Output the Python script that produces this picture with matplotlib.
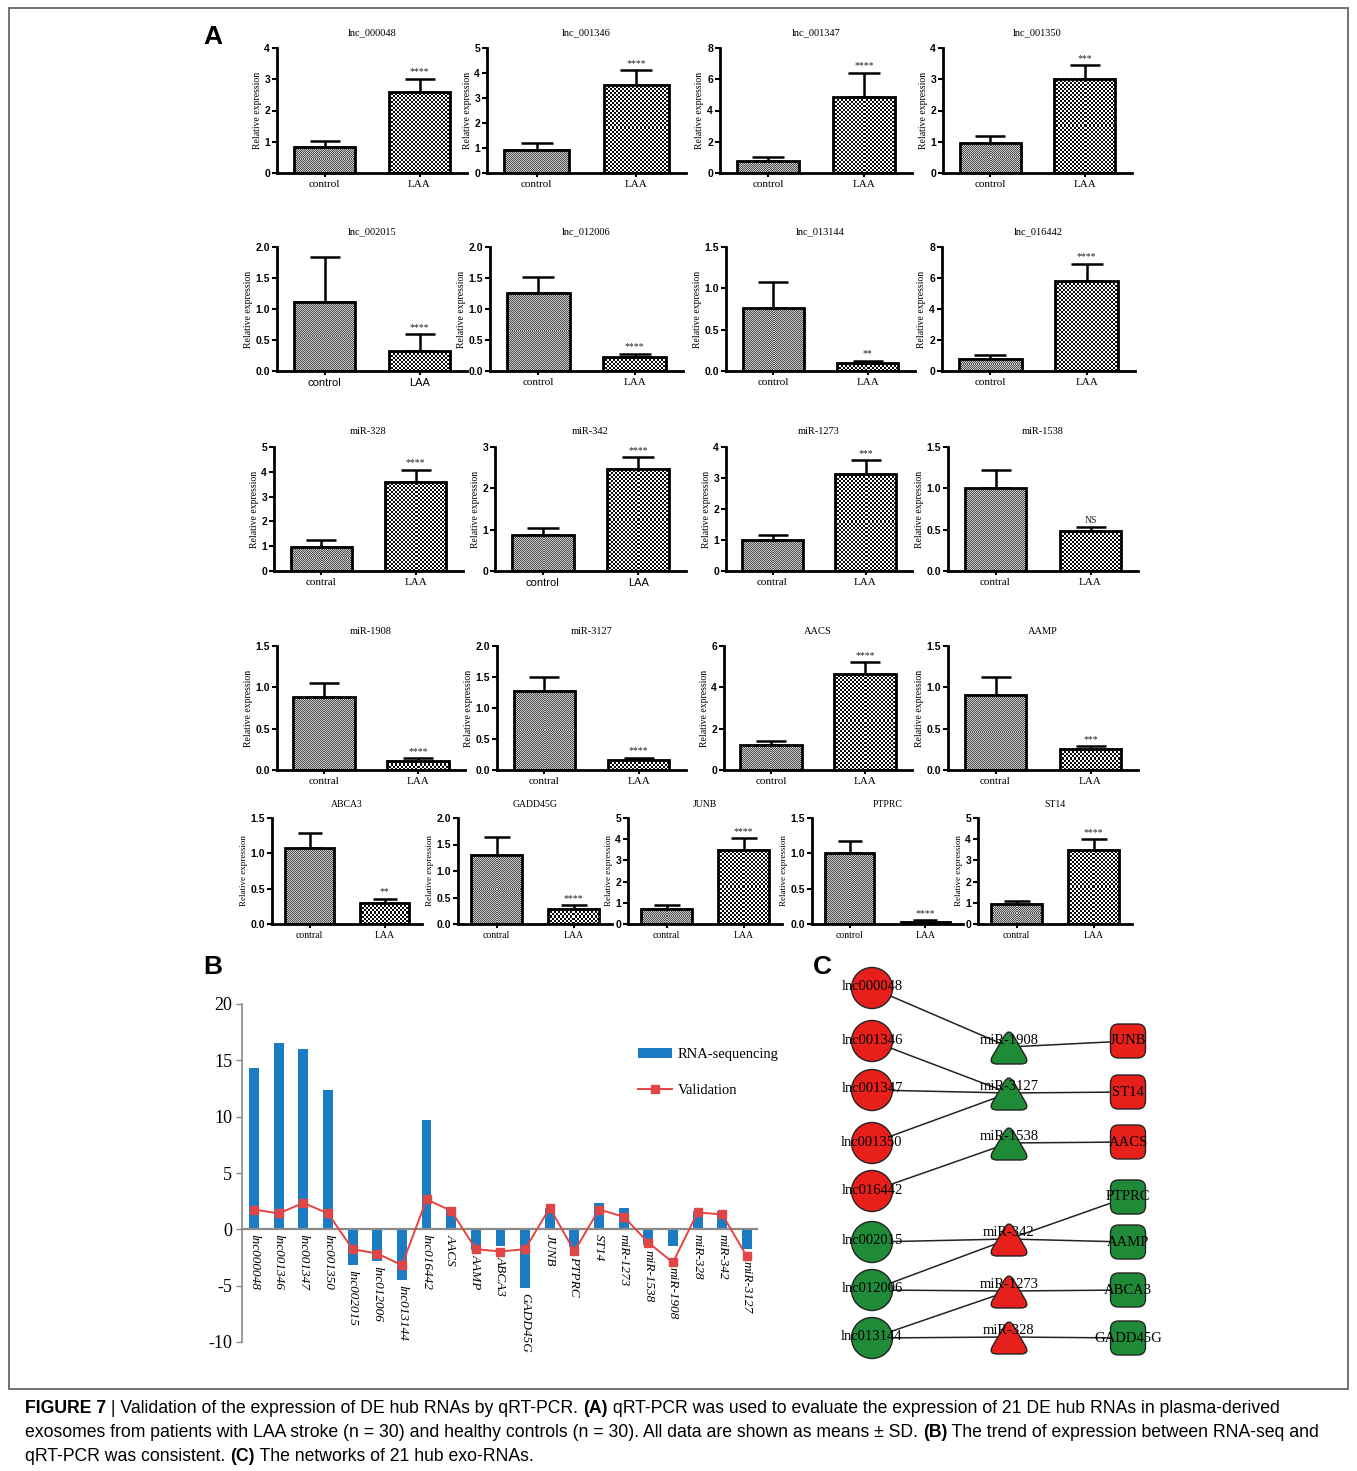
import numpy as np
import matplotlib
matplotlib.use("Agg")
import matplotlib.pyplot as plt
from matplotlib.patches import Rectangle, Circle, FancyBboxPatch, PathPatch, Patch
from matplotlib.lines import Line2D
from matplotlib.path import Path

W, H = 1357, 1471
SERIF = "Liberation Serif"
SANS = "Liberation Sans"

# ---------------- Panel A: qRT-PCR relative expression ----------------
genes_A = ["lnc_000048", "lnc_001346", "lnc_001347", "lnc_001350",
           "lnc_002015", "lnc_012006", "lnc_013144", "lnc_016442",
           "miR-328", "miR-342", "miR-1273", "miR-1538",
           "miR-1908", "miR-3127", "AACS", "AAMP",
           "ABCA3", "GADD45G", "JUNB", "PTPRC", "ST14"]
ctrl_mean = [0.84, 0.94, 0.76, 0.97, 1.12, 1.26, 0.76, 0.79,
             0.98, 0.87, 1.00, 1.00, 0.88, 1.28, 1.19, 0.91,
             1.07, 1.31, 0.71, 1.00, 0.95]
ctrl_sd = [0.19, 0.25, 0.27, 0.20, 0.72, 0.25, 0.32, 0.26,
           0.26, 0.17, 0.15, 0.22, 0.17, 0.22, 0.20, 0.21,
           0.22, 0.33, 0.20, 0.17, 0.13]
laa_mean = [2.59, 3.54, 4.85, 3.01, 0.32, 0.22, 0.093, 5.79,
            3.58, 2.47, 3.13, 0.48, 0.11, 0.16, 4.65, 0.26,
            0.30, 0.29, 3.50, 0.03, 3.50]
laa_sd = [0.43, 0.59, 1.57, 0.45, 0.28, 0.06, 0.032, 1.14,
          0.51, 0.29, 0.46, 0.05, 0.03, 0.04, 0.58, 0.03,
          0.06, 0.06, 0.55, 0.02, 0.50]
sig_marks = ["****", "****", "****", "***", "****", "****", "**", "****",
             "****", "****", "***", "NS", "****", "****", "****", "***",
             "**", "****", "****", "****", "****"]
y_max = [4, 5, 8, 4, 2.0, 2.0, 1.5, 8,
         5, 3, 4, 1.5, 1.5, 2.0, 6, 1.5,
         1.5, 2.0, 5, 1.5, 5]
y_step = [1, 1, 2, 1, 0.5, 0.5, 0.5, 2,
          1, 1, 1, 0.5, 0.5, 0.5, 2, 0.5,
          0.5, 0.5, 1, 0.5, 1]
group_names = [["control", "LAA"]] * 8 + [
    ["contral", "LAA"], ["control", "LAA"], ["contral", "LAA"], ["contral", "LAA"],
    ["contral", "LAA"], ["contral", "LAA"], ["control", "LAA"], ["contral", "LAA"],
    ["contral", "LAA"], ["contral", "LAA"], ["contral", "LAA"], ["control", "LAA"],
    ["contral", "LAA"]]
sans_group_labels = {"lnc_002015", "miR-342"}

# axes boxes in pixels: (left, right, top-of-scale, zero line)
boxes_A = [
    (277, 467, 48, 173), (487, 686, 48, 173), (720, 912, 48, 173), (943, 1132, 48, 173),
    (277, 467, 247, 371), (490, 683, 247, 371), (726, 915, 247, 371), (942, 1135, 247, 371),
    (274, 463, 447, 571), (495, 686, 447, 571), (726, 912, 447, 571), (948, 1138, 447, 571),
    (277, 465, 646, 770), (497, 686, 646, 770), (724, 912, 646, 770), (948, 1138, 646, 770),
    (272, 422, 818, 924), (458, 612, 818, 924), (628, 782, 818, 924), (812, 963, 818, 924),
    (978, 1132, 818, 924),
]

# ---------------- Panel B: RNA-seq vs validation ----------------
names_B = ["lnc000048", "lnc001346", "lnc001347", "lnc001350", "lnc002015",
           "lnc012006", "lnc013144", "lnc016442", "AACS", "AAMP", "ABCA3",
           "GADD45G", "JUNB", "PTPRC", "ST14", "miR-1273", "miR-1538",
           "miR-1908", "miR-328", "miR-342", "miR-3127"]
rnaseq_fc = [14.3, 16.5, 16.05, 12.4, -3.2, -2.8, -4.5, 9.7, 2.0, -1.8, -1.5,
             -5.2, 1.9, -1.6, 2.3, 1.85, -1.4, -1.5, 1.6, 1.6, -1.75]
validation_fc = [1.76, 1.41, 2.35, 1.41, -1.76, -2.15, -3.18, 2.65, 1.65, -1.76,
                 -1.97, -1.76, 1.91, -1.94, 1.76, 1.12, -1.18, -2.94, 1.5, 1.32,
                 -2.41]
b_yticks = [-10, -5, 0, 5, 10, 15, 20]

# ---------------- Panel C: regulatory network ----------------
lnc_nodes = ["lnc000048", "lnc001346", "lnc001347", "lnc001350", "lnc016442",
             "lnc002015", "lnc012006", "lnc013144"]
lnc_up = [True, True, True, True, True, False, False, False]
mir_nodes = ["miR-1908", "miR-3127", "miR-1538", "miR-342", "miR-1273", "miR-328"]
mir_up = [False, False, False, True, True, True]
mrna_nodes = ["JUNB", "ST14", "AACS", "PTPRC", "AAMP", "ABCA3", "GADD45G"]
mrna_up = [True, True, True, False, False, False, False]
net_edges = [("lnc000048", "miR-1908"), ("lnc001346", "miR-3127"),
             ("lnc001347", "miR-3127"), ("lnc001350", "miR-3127"),
             ("lnc016442", "miR-1538"), ("miR-1908", "JUNB"),
             ("miR-3127", "ST14"), ("miR-1538", "AACS"),
             ("lnc002015", "miR-342"), ("miR-342", "PTPRC"), ("miR-342", "AAMP"),
             ("lnc012006", "miR-342"), ("lnc012006", "miR-1273"),
             ("miR-1273", "ABCA3"), ("lnc013144", "miR-1273"),
             ("lnc013144", "miR-328"), ("miR-328", "GADD45G")]

# node layout (pixel grid of the network area)
col_x = {"lnc": 872, "mir": 1009, "mrna": 1128}
lnc_y = [988, 1041, 1090, 1143, 1191, 1242, 1290, 1338]
mir_y = [1047, 1093, 1143, 1239, 1291, 1337]
mrna_y = [1041, 1092, 1142, 1197, 1242, 1290, 1338]

RED = "#e8201c"
GREEN = "#1f8a38"

fig = plt.figure(figsize=(W / 100, H / 100), dpi=100)


def axes_px(x0, x1, y0, y1):
    return fig.add_axes([x0 / W, 1 - y1 / H, (x1 - x0) / W, (y1 - y0) / H])


def checker(h, w, cell, c1, c2):
    yy, xx = np.indices((max(h, 1), max(w, 1)))
    mask = ((yy // cell) + (xx // cell)) % 2 == 0
    img = np.empty(mask.shape + (3,))
    img[mask] = c1
    img[~mask] = c2
    return img


# outer frame
fig.add_artist(Rectangle((9 / W, 1 - 1389 / H), (1348 - 9) / W, (1389 - 8) / H,
                         transform=fig.transFigure, fill=False,
                         edgecolor="#666666", lw=1.3))

for i, name in enumerate(genes_A):
    x0, x1, y0, y1 = boxes_A[i]
    ax = axes_px(x0, x1, y0, y1)
    means = [ctrl_mean[i], laa_mean[i]]
    sds = [ctrl_sd[i], laa_sd[i]]
    bw = 0.65
    px_per_x = (x1 - x0) / 2.0
    px_per_y = (y1 - y0) / y_max[i]
    bars = ax.bar([0, 1], means, width=bw, facecolor="none", edgecolor="black",
                  linewidth=2.0, zorder=3)
    # checkerboard fill of each bar
    for j, b in enumerate(bars):
        wpx = int(round(b.get_width() * px_per_x))
        hpx = int(round(b.get_height() * px_per_y))
        if j == 0:
            img = checker(hpx, wpx, 1, (0.30, 0.30, 0.30), (0.80, 0.80, 0.80))
        else:
            img = checker(hpx, wpx, 2, (0.05, 0.05, 0.05), (1.0, 1.0, 1.0))
        ax.imshow(img, extent=(b.get_x(), b.get_x() + b.get_width(), 0, b.get_height()),
                  origin="lower", interpolation="nearest", aspect="auto", zorder=2)
    cap_pt = bw * px_per_x / 4.0 * 0.72
    ax.errorbar([0, 1], means, yerr=[[0, 0], sds], fmt="none", ecolor="black",
                elinewidth=1.8, capsize=cap_pt, capthick=1.8, zorder=1)
    top = means[1] + sds[1]
    ax.annotate(sig_marks[i], (1, top), xytext=(0, 1.5), textcoords="offset points",
                ha="center", va="bottom", fontsize=7, family=SERIF, color="#222222")
    ax.set_xlim(-0.5, 1.5)
    ax.set_ylim(0, y_max[i])
    ticks = np.arange(0, y_max[i] + y_step[i] / 2, y_step[i])
    if y_step[i] < 1:
        labels = ["{:.1f}".format(t) for t in ticks]
    else:
        labels = ["{:d}".format(int(round(t))) for t in ticks]
    ax.set_yticks(ticks)
    ax.set_yticklabels(labels, fontsize=7.5, family=SANS, fontweight="bold")
    ax.set_xticks([0, 1])
    xfam = SANS if name in sans_group_labels else SERIF
    ax.set_xticklabels(group_names[i], fontsize=8 if i < 16 else 7, family=xfam)
    ax.tick_params(axis="y", direction="out", length=3.5, width=1.5, pad=1.5)
    ax.tick_params(axis="x", direction="out", length=3, width=1.5, pad=2)
    for s in ("top", "right"):
        ax.spines[s].set_visible(False)
    for s in ("left", "bottom"):
        ax.spines[s].set_linewidth(2.0)
    ax.set_ylabel("Relative expression", fontsize=7 if i < 16 else 6.5,
                  family=SERIF, labelpad=2)
    ax.set_title(name, fontsize=7.5 if i < 16 else 7, family=SERIF,
                 pad=9 if i < 16 else 8)

# ---------------- Panel B ----------------
axB = axes_px(242, 757, 1004, 1342)
xb = np.arange(len(names_B))
axB.bar(xb, rnaseq_fc, width=0.4, color="#1b7cc4", zorder=2, label="RNA-sequencing")
axB.plot(xb, validation_fc, color="#e8433e", lw=1.4, marker="s", ms=5.5,
         mfc="#e04646", mec="#e04646", zorder=3, label="Validation")
axB.set_xlim(-0.49, 20.41)
axB.set_ylim(-10, 20)
for s in ("top", "right"):
    axB.spines[s].set_visible(False)
axB.spines["left"].set_color("#8a8a8a")
axB.spines["left"].set_linewidth(1.2)
axB.spines["bottom"].set_position(("data", 0))
axB.spines["bottom"].set_color("#8a8a8a")
axB.spines["bottom"].set_linewidth(1.6)
axB.set_yticks(b_yticks)
axB.set_yticklabels([str(v) for v in b_yticks], fontsize=13, family=SERIF)
axB.tick_params(axis="y", length=4, color="#8a8a8a", width=1, pad=3)
axB.set_xticks(xb)
axB.set_xticklabels([])
axB.tick_params(axis="x", length=0)
# category names sit just below the lowest mark of each category
for k, nm in enumerate(names_B):
    low = min(0.0, rnaseq_fc[k], validation_fc[k])
    axB.annotate(nm, (k, low), xytext=(0, -3.5), textcoords="offset points",
                 rotation=-90, fontsize=9.5, family=SERIF, style="italic",
                 va="top", ha="center")
leg_handles = [Patch(facecolor="#1b7cc4"),
               Line2D([0], [0], color="#e8433e", lw=1.4, marker="s", ms=5.5,
                      mfc="#e04646", mec="#e04646")]
axB.legend(leg_handles, ["RNA-sequencing", "Validation"], loc="upper left",
           bbox_to_anchor=(638 / W, 1 - 1048 / H), bbox_transform=fig.transFigure,
           frameon=False, prop={"family": SERIF, "size": 10.5}, handlelength=2.3,
           handleheight=0.7, handletextpad=0.4, labelspacing=1.55, borderpad=0,
           borderaxespad=0)

# ---------------- Panel C ----------------
axC = axes_px(815, 1185, 955, 1370)
axC.set_xlim(815, 1185)
axC.set_ylim(1370, 955)
axC.axis("off")

pos, kind, up = {}, {}, {}
for n, y, u in zip(lnc_nodes, lnc_y, lnc_up):
    pos[n] = (col_x["lnc"], y); kind[n] = "lnc"; up[n] = u
for n, y, u in zip(mir_nodes, mir_y, mir_up):
    pos[n] = (col_x["mir"], y); kind[n] = "mir"; up[n] = u
for n, y, u in zip(mrna_nodes, mrna_y, mrna_up):
    pos[n] = (col_x["mrna"], y); kind[n] = "mrna"; up[n] = u

for a, b in net_edges:
    (xa, ya), (xb2, yb2) = pos[a], pos[b]
    axC.plot([xa, xb2], [ya, yb2], color="#222222", lw=1.1, zorder=1,
             solid_capstyle="butt")


def rounded_poly(verts, t=0.22):
    verts = [np.array(v, float) for v in verts]
    n = len(verts)
    codes, pts = [], []
    for k in range(n):
        p, v, q = verts[k - 1], verts[k], verts[(k + 1) % n]
        a = v + (p - v) * t
        b = v + (q - v) * t
        pts += [a, v, b]
        codes += [Path.MOVETO if k == 0 else Path.LINETO, Path.CURVE3, Path.CURVE3]
    pts.append(pts[0])
    codes.append(Path.LINETO)
    return Path(pts, codes)


for n in pos:
    x, y = pos[n]
    fc = RED if up[n] else GREEN
    if kind[n] == "lnc":
        axC.add_patch(Circle((x, y), 20.5, facecolor=fc, edgecolor="#222222",
                             lw=1.0, zorder=2))
        ly = y - 1
    elif kind[n] == "mir":
        tri = rounded_poly([(x - 21, y + 17), (x + 21, y + 17), (x, y - 19)])
        axC.add_patch(PathPatch(tri, facecolor=fc, edgecolor="#222222", lw=1.0,
                                zorder=2))
        ly = y - 6
    else:
        axC.add_patch(FancyBboxPatch((x - 17.5, y - 17), 35, 34,
                                     boxstyle="round,pad=0,rounding_size=8",
                                     facecolor=fc, edgecolor="#222222", lw=1.0,
                                     zorder=2))
        ly = y
    axC.text(x, ly, n, ha="center", va="center", fontsize=10.5, family=SERIF,
             color="black", zorder=3)

# ---------------- Panel letters ----------------
for letter, lx, ly in (("A", 203, 44), ("B", 203, 974), ("C", 813, 974)):
    fig.text(lx / W, 1 - ly / H, letter, fontsize=19, fontweight="bold",
             family=SANS, va="baseline", ha="left")

# ---------------- Caption ----------------
caption_lines = [
    [("FIGURE 7", True), (" | Validation of the expression of DE hub RNAs by qRT-PCR. ", False),
     ("(A)", True), (" qRT-PCR was used to evaluate the expression of 21 DE hub RNAs in plasma-derived", False)],
    [("exosomes from patients with LAA stroke (n = 30) and healthy controls (n = 30). All data are shown as means \u00b1 SD. ", False),
     ("(B)", True), (" The trend of expression between RNA-seq and", False)],
    [("qRT-PCR was consistent. ", False), ("(C)", True),
     (" The networks of 21 hub exo-RNAs.", False)],
]
caption_base = [1413, 1437, 1461]
renderer = fig.canvas.get_renderer()


def seg_width(txt, bold, size):
    w = fig.text(0, 0, "X" + txt + "X", fontsize=size, family=SANS,
                 fontweight="bold" if bold else "normal")
    r = fig.text(0, 0, "XX", fontsize=size, family=SANS,
                 fontweight="bold" if bold else "normal")
    d = w.get_window_extent(renderer).width - r.get_window_extent(renderer).width
    w.remove(); r.remove()
    return d


base_size = 12.0
line1_w = sum(seg_width(t, b, base_size) for t, b in caption_lines[0])
cap_size = base_size * 1255.0 / line1_w
for segs, yb in zip(caption_lines, caption_base):
    xcur = 25.0
    for t, b in segs:
        fig.text(xcur / W, 1 - yb / H, t, fontsize=cap_size, family=SANS,
                 fontweight="bold" if b else "normal", va="baseline", ha="left")
        xcur += seg_width(t, b, cap_size)

fig.savefig("out.png", dpi=100)
